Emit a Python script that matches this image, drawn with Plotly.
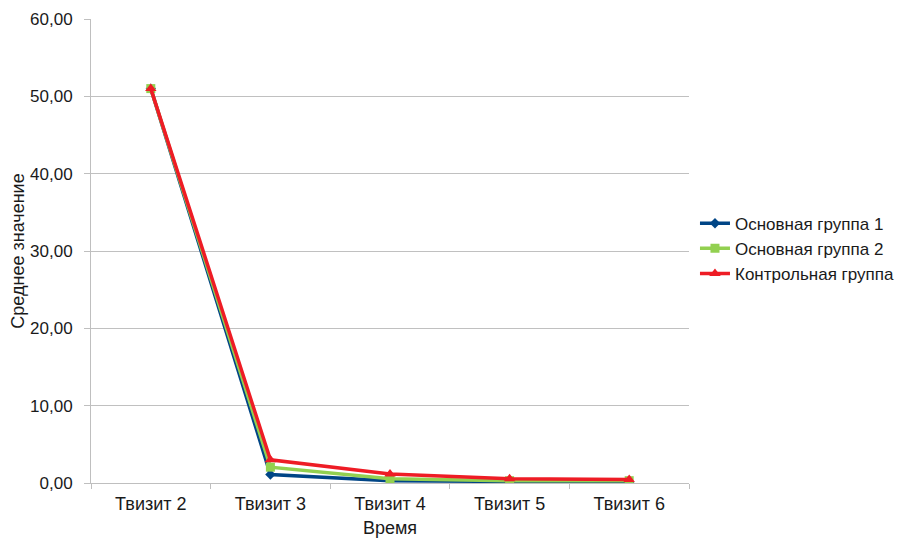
import plotly.graph_objects as go

categories = ["Твизит 2", "Твизит 3", "Твизит 4", "Твизит 5", "Твизит 6"]
group1 = [51.0, 1.1, 0.3, 0.15, 0.1]
group2 = [51.0, 2.05, 0.55, 0.3, 0.3]
control = [51.0, 3.0, 1.15, 0.55, 0.45]

series = [
    ("Основная группа 1", group1, "#004586", "diamond", 8),
    ("Основная группа 2", group2, "#92d050", "square", 9),
    ("Контрольная группа", control, "#ee1c25", "triangle-up", 10),
]

fig = go.Figure()
for name, vals, color, sym, sz in series:
    fig.add_trace(go.Scatter(
        x=categories, y=vals, name=name, mode="lines+markers",
        line=dict(color=color, width=3.5),
        marker=dict(symbol=sym, size=sz, color=color),
    ))

fig.update_layout(
    width=906, height=538, autosize=False,
    margin=dict(l=91, r=217, t=19, b=55, autoexpand=False),
    paper_bgcolor="white", plot_bgcolor="white",
    font=dict(family="Liberation Sans, Arial, sans-serif", size=18, color="#1a1a1a"),
    separators=", ",
    legend=dict(x=1.01, y=0.505, xanchor="left", yanchor="middle",
                font=dict(size=17), tracegroupgap=0, itemwidth=30),
    xaxis=dict(
        type="category", tickson="boundaries", ticks="outside", ticklen=5,
        tickcolor="#bfbfbf", showline=True, linecolor="#bfbfbf", linewidth=1,
        showgrid=False, title=dict(text="Время", standoff=10, font=dict(size=18)),
        range=[-0.5, 4.5], automargin=False, ticklabelstandoff=4,
    ),
    yaxis=dict(
        range=[0, 60], dtick=10, tickformat=".2f", tickfont=dict(size=17),
        showgrid=True, gridcolor="#c0c0c0", gridwidth=1,
        showline=True, linecolor="#bfbfbf", linewidth=1,
        zeroline=False, ticks="outside", ticklen=6, tickcolor="#bfbfbf",
        ticklabelstandoff=8, automargin=False,
        title=dict(text="Среднее значение", standoff=0, font=dict(size=18)),
    ),
)

fig.write_html(
    "out.html",
    config={"displayModeBar": False, "responsive": False},
    post_script="document.body.style.margin='0';document.body.style.padding='0';",
)
